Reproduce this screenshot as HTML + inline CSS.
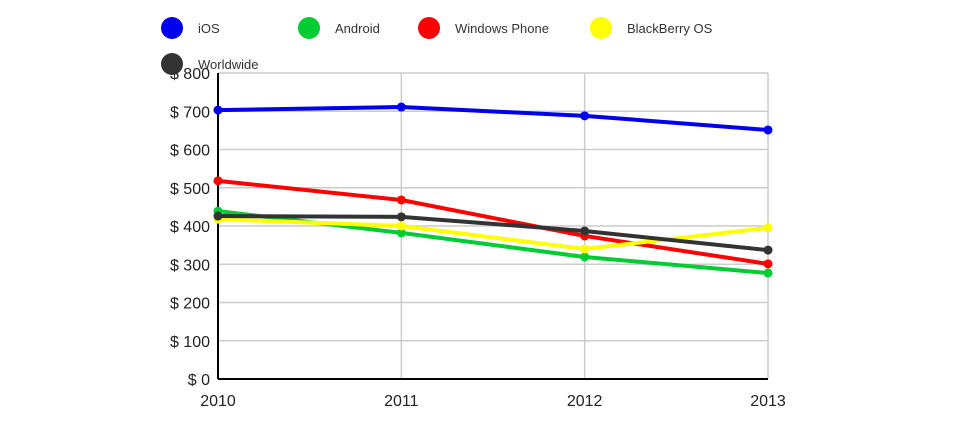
<!DOCTYPE html>
<html><head><meta charset="utf-8"><style>
body{margin:0;background:#fff;font-family:"Liberation Sans",Arial,sans-serif}
</style></head><body>
<svg id="chart" width="960" height="420" xmlns="http://www.w3.org/2000/svg" font-family="Liberation Sans, Arial, sans-serif">
<g id="grid"></g><g id="axes"></g><g id="series"></g><g id="legend"></g>
</svg>
<script>
const categories=["2010","2011","2012","2013"];
const yTicks=[0,100,200,300,400,500,600,700,800];
const seriesNames=["iOS","Android","Windows Phone","BlackBerry OS","Worldwide"];
const seriesColors=["#0000ee","#00cc33","#ff0000","#ffff00","#333333"];
const iosValues=[703,711,688,651];
const androidValues=[439,382,319,277];
const windowsValues=[518,468,374,301];
const blackberryValues=[418,400,340,395];
const worldwideValues=[426,424,387,337];
const allValues=[iosValues,androidValues,windowsValues,blackberryValues,worldwideValues];

const NS="http://www.w3.org/2000/svg";
const X0=218,X1=768,Y0=379,Y1=73;
const xs=i=>X0+(X1-X0)*i/(categories.length-1);
const ys=v=>Y0-(Y0-Y1)*v/800;
function mk(tag,attrs,parent,text){const e=document.createElementNS(NS,tag);for(const k in attrs)e.setAttribute(k,attrs[k]);if(text!==undefined)e.textContent=text;parent.appendChild(e);return e;}
const grid=document.getElementById('grid'),axes=document.getElementById('axes'),ser=document.getElementById('series'),leg=document.getElementById('legend');
yTicks.forEach(t=>{
  const l=mk('line',{x1:X0,x2:X1,y1:ys(t),y2:ys(t),stroke:'#cccccc','stroke-width':1.5},grid);
  
  
  const tx=mk('text',{x:210,y:ys(t)+6,'text-anchor':'end','font-size':16,fill:'#222'},axes,'$ '+t);
  
  
});
categories.forEach((c,i)=>{
  if(i>0){const l=mk('line',{x1:xs(i),x2:xs(i),y1:Y1,y2:Y0,stroke:'#cccccc','stroke-width':1.5},grid);
  
  }
  const tx=mk('text',{x:xs(i),y:406,'text-anchor':'middle','font-size':16,fill:'#222'},axes,c);
  
  
});
const ya=mk('line',{x1:X0,x2:X0,y1:Y1,y2:Y0,stroke:'#000','stroke-width':2},axes);


const xa=mk('line',{x1:X0,x2:X1,y1:Y0,y2:Y0,stroke:'#000','stroke-width':2},axes);


allValues.forEach((vals,s)=>{
  const g=mk('g',{},ser);
  
  
  const pts=vals.map((v,i)=>xs(i)+','+ys(v)).join(' ');
  const pl=mk('polyline',{points:pts,fill:'none',stroke:seriesColors[s],'stroke-width':4,'stroke-linejoin':'round'},g);
  
  
  vals.forEach((v,i)=>{
    const c=mk('circle',{cx:xs(i),cy:ys(v),r:4.5,fill:seriesColors[s]},g);
    
    
  });
});
const legPos=[[172,28],[309,28],[429,28],[601,28],[172,64]];
seriesNames.forEach((n,s)=>{
  const g=mk('g',{},leg);
  
  
  mk('circle',{cx:legPos[s][0],cy:legPos[s][1],r:11,fill:seriesColors[s]},g);
  mk('text',{x:legPos[s][0]+26,y:legPos[s][1]+5,'font-size':13,fill:'#333'},g,n);
});
</script>
</body></html>
